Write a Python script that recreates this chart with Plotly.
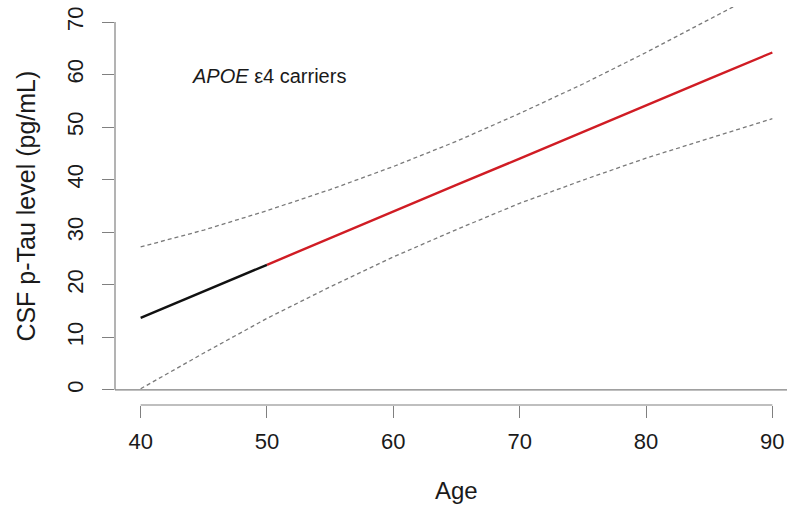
import plotly.graph_objects as go

# Predicted CSF p-Tau by age for APOE e4 carriers, with 95% confidence band
age = [40, 45, 50, 55, 60, 65, 70, 75, 80, 85, 90]
fit = [13.7, 18.8, 23.8, 28.9, 33.9, 39.0, 44.0, 49.1, 54.1, 59.2, 64.2]
upper = [27.2, 30.4, 34.1, 38.1, 42.5, 47.3, 52.6, 58.2, 64.2, 70.4, 76.8]
lower = [0.2, 7.0, 13.6, 19.6, 25.3, 30.5, 35.5, 39.9, 44.1, 47.9, 51.6]
split_age = 50  # fitted line drawn black below this age, red above

x_ticks = [40, 50, 60, 70, 80, 90]
y_ticks = [0, 10, 20, 30, 40, 50, 60, 70]

FONT = "Liberation Sans, Arial, sans-serif"
AXIS_GREY = "#808080"
TEXT = "#1a1a1a"

lo_idx = [i for i, a in enumerate(age) if a <= split_age]
hi_idx = [i for i, a in enumerate(age) if a >= split_age]

fig = go.Figure()
dash_style = dict(color="#7a7a7a", width=1.3, dash="4px,3px")
fig.add_trace(go.Scatter(x=age, y=upper, mode="lines", line=dash_style,
                         hoverinfo="skip"))
fig.add_trace(go.Scatter(x=age, y=lower, mode="lines", line=dash_style,
                         hoverinfo="skip"))
fig.add_trace(go.Scatter(x=[age[i] for i in lo_idx], y=[fit[i] for i in lo_idx],
                         mode="lines", line=dict(color="#111111", width=2.4)))
fig.add_trace(go.Scatter(x=[age[i] for i in hi_idx], y=[fit[i] for i in hi_idx],
                         mode="lines", line=dict(color="#d01c24", width=2.4)))

# R-style axis lines spanning only the tick range, plus reference line at 0
fig.add_shape(type="line", xref="paper", yref="y", x0=0, x1=0,
              y0=y_ticks[0], y1=y_ticks[-1], line=dict(color=AXIS_GREY, width=1.2))
fig.add_shape(type="line", xref="x", yref="paper", x0=x_ticks[0], x1=x_ticks[-1],
              y0=0, y1=0, line=dict(color=AXIS_GREY, width=1.2))
fig.add_shape(type="line", xref="paper", yref="y", x0=0, x1=1, y0=0, y1=0,
              line=dict(color=AXIS_GREY, width=1.2))

fig.add_annotation(x=0.112, y=0.827, xref="paper", yref="paper",
                   text="<i>APOE</i> \u03b54 carriers", showarrow=False,
                   xanchor="left", yanchor="middle",
                   font=dict(family=FONT, size=20, color=TEXT))
fig.add_annotation(x=65, y=-0.215, xref="x", yref="paper", text="Age",
                   showarrow=False, xanchor="center", yanchor="middle",
                   font=dict(family=FONT, size=24, color=TEXT))
fig.add_annotation(x=-0.133, y=0.5, xref="paper", yref="paper",
                   text="CSF p-Tau level (pg/mL)", textangle=-90,
                   showarrow=False, xanchor="center", yanchor="middle",
                   font=dict(family=FONT, size=25, color=TEXT))

fig.update_xaxes(range=[37.97, 91.16], tickvals=x_ticks, ticks="outside",
                 ticklen=12, tickcolor=AXIS_GREY, tickwidth=1.2,
                 ticklabelstandoff=5,
                 showline=False, showgrid=False, zeroline=False,
                 tickfont=dict(family=FONT, size=22, color=TEXT))
fig.update_yaxes(range=[-2.89, 72.86], tickvals=y_ticks, ticks="outside",
                 ticklen=12, tickcolor=AXIS_GREY, tickwidth=1.2, tickangle=-90,
                 ticklabelstandoff=10,
                 showline=False, showgrid=False, zeroline=False,
                 tickfont=dict(family=FONT, size=22, color=TEXT))

fig.update_layout(width=787, height=509, showlegend=False,
                  margin=dict(l=115, r=0, t=7, b=104),
                  plot_bgcolor="white", paper_bgcolor="white")

fig.write_html("out.html")
